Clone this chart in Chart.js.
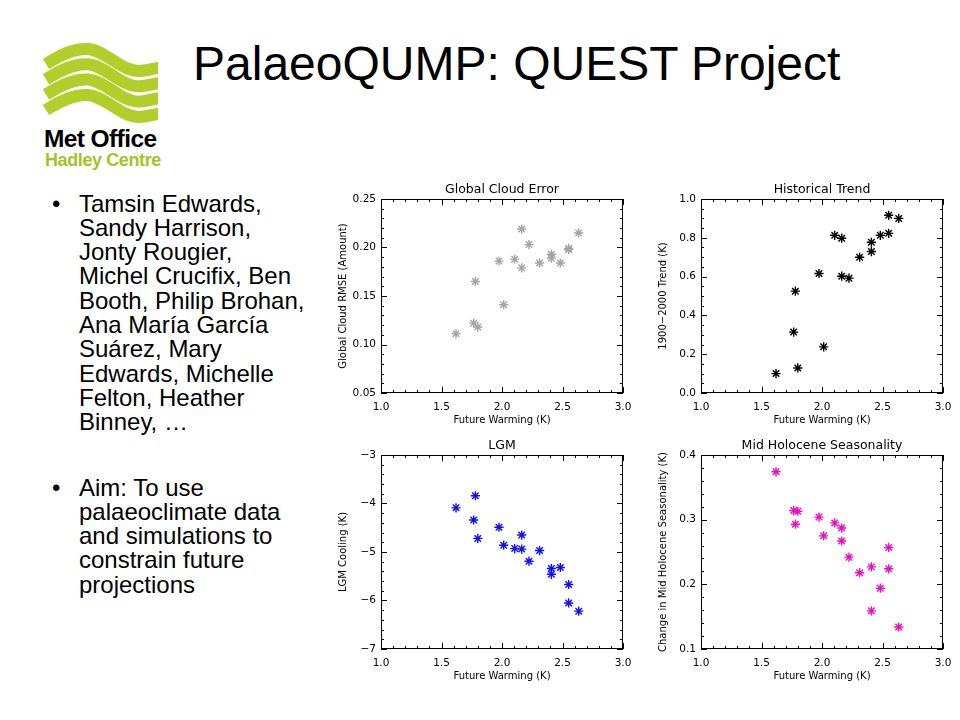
<!DOCTYPE html>
<html><head><meta charset="utf-8">
<script src="https://cdn.jsdelivr.net/npm/chart.js@4.4.1/dist/chart.umd.min.js"></script>
<style>
html,body{margin:0;padding:0;background:#fff;}
body{width:960px;height:720px;position:relative;overflow:hidden;font-family:"Liberation Sans",Arial,sans-serif;color:#000;}
#title{position:absolute;left:193px;top:40px;font-size:48px;line-height:48px;white-space:nowrap;}
.bul{position:absolute;left:79px;font-size:24px;line-height:24.3px;white-space:nowrap;}
.bul::before{content:"\2022";position:absolute;left:-27px;}
canvas{position:absolute;}
#logo{position:absolute;left:0;top:0;}
.lt1{position:absolute;left:44px;top:126px;font-size:24.5px;font-weight:bold;line-height:26px;white-space:nowrap;letter-spacing:-0.6px;}
.lt2{position:absolute;left:45px;top:150px;font-size:18px;line-height:20px;white-space:nowrap;color:#a3c424;font-weight:bold;letter-spacing:-0.4px;}
</style></head>
<body>
<svg id="logo" width="200" height="130">
  <g fill="none" stroke="#b0cf2a" stroke-width="12">
    <path d="M46,64 C62,54 75,48 88,49 C105,50 122,72 140,71 C150,70 155,68 158,68"/>
    <path d="M46,79.3 C62,69.3 75,63.3 88,64.3 C105,65.3 122,87.3 140,86.3 C150,85.3 155,83.3 158,83.3"/>
    <path d="M46,94.6 C62,84.6 75,78.6 88,79.6 C105,80.6 122,102.6 140,101.6 C150,100.6 155,98.6 158,98.6"/>
    <path d="M46,110 C62,100 75,94 88,95 C105,96 122,118 140,117 C150,116 155,114 158,114"/>
  </g>
</svg>
<div class="lt1">Met Office</div>
<div class="lt2">Hadley Centre</div>
<div id="title">PalaeoQUMP: QUEST Project</div>
<div class="bul" style="top:191.5px">Tamsin Edwards,<br>Sandy Harrison,<br>Jonty Rougier,<br>Michel Crucifix, Ben<br>Booth, Philip Brohan,<br>Ana María García<br>Suárez, Mary<br>Edwards, Michelle<br>Felton, Heather<br>Binney, …</div>
<div class="bul" style="top:475.5px">Aim: To use<br>palaeoclimate data<br>and simulations to<br>constrain future<br>projections</div>
<canvas id="c1" width="302" height="248" style="left:331px;top:180px"></canvas>
<canvas id="c2" width="302" height="248" style="left:651px;top:180px"></canvas>
<canvas id="c3" width="302" height="248" style="left:331px;top:436px"></canvas>
<canvas id="c4" width="302" height="248" style="left:651px;top:436px"></canvas>
<script>
// ---- data ----
const futureWarming = [1.62, 1.766, 1.78, 1.80, 1.975, 2.014, 2.105, 2.163, 2.163, 2.223, 2.311, 2.408, 2.408, 2.482, 2.551, 2.551, 2.634];
const cloudRmse     = [0.111, 0.122, 0.165, 0.118, 0.186, 0.141, 0.188, 0.219, 0.179, 0.203, 0.184, 0.193, 0.189, 0.184, 0.199, 0.198, 0.215];
const histTrend     = [0.10, 0.314, 0.525, 0.129, 0.616, 0.238, 0.813, 0.798, 0.602, 0.592, 0.700, 0.777, 0.729, 0.813, 0.916, 0.823, 0.90];
const lgmCooling    = [-4.09, -4.34, -3.84, -4.72, -4.49, -4.86, -4.93, -4.65, -4.94, -5.19, -4.97, -5.34, -5.46, -5.32, -5.67, -6.05, -6.22];
const mhSeasonality = [0.374, 0.314, 0.293, 0.313, 0.304, 0.275, 0.295, 0.287, 0.267, 0.242, 0.218, 0.227, 0.159, 0.194, 0.257, 0.224, 0.134];

const xTickValues = [1.0, 1.5, 2.0, 2.5, 3.0];
const xTickLabels = ['1.0', '1.5', '2.0', '2.5', '3.0'];
const cloudTickValues = [0.05, 0.10, 0.15, 0.20, 0.25];
const cloudTickLabels = ['0.05', '0.10', '0.15', '0.20', '0.25'];
const histTickValues = [0.0, 0.2, 0.4, 0.6, 0.8, 1.0];
const histTickLabels = ['0.0', '0.2', '0.4', '0.6', '0.8', '1.0'];
const lgmTickValues = [-7, -6, -5, -4, -3];
const lgmTickLabels = ['\u22127', '\u22126', '\u22125', '\u22124', '\u22123'];
const mhTickValues = [0.1, 0.2, 0.3, 0.4];
const mhTickLabels = ['0.1', '0.2', '0.3', '0.4'];

const panels = [
  {id:'c1', title:'Global Cloud Error', yTitle:'Global Cloud RMSE (Amount)', y:cloudRmse, color:'#a4a4a4',
   yMin:0.05, yMax:0.25, yTicks:cloudTickValues, yLabels:cloudTickLabels, yMajor:0.05, yMinor:0.01},
  {id:'c2', title:'Historical Trend', yTitle:'1900\u22122000 Trend (K)', y:histTrend, color:'#000000',
   yMin:0, yMax:1, yTicks:histTickValues, yLabels:histTickLabels, yMajor:0.2, yMinor:0.05},
  {id:'c3', title:'LGM', yTitle:'LGM Cooling (K)', y:lgmCooling, color:'#1010f0',
   yMin:-7, yMax:-3, yTicks:lgmTickValues, yLabels:lgmTickLabels, yMajor:1, yMinor:0.2},
  {id:'c4', title:'Mid Holocene Seasonality', yTitle:'Change in Mid Holocene Seasonality (K)', y:mhSeasonality, color:'#e810c0',
   yMin:0.1, yMax:0.4, yTicks:mhTickValues, yLabels:mhTickLabels, yMajor:0.1, yMinor:0.02}
];

const TICKFONT = {family:'"DejaVu Sans", sans-serif', size:10.5};
const AXFONT = {family:'"DejaVu Sans", sans-serif', size:10};

const framePlugin = {
  id:'idlFrame',
  afterDraw(chart, args, opts){
    const {ctx, chartArea:a, scales:{x, y}} = chart;
    ctx.save();
    ctx.strokeStyle = '#000';
    ctx.lineWidth = 1;
    ctx.strokeRect(Math.round(a.left)+0.5, Math.round(a.top)+0.5, Math.round(a.right-a.left)-1, Math.round(a.bottom-a.top)-1);
    const isMajor = (v, m) => Math.abs(Math.round(v/m)*m - v) < 1e-7;
    ctx.beginPath();
    for (let v = x.min; v <= x.max + 1e-9; v += opts.xMinor){
      const px = Math.round(x.getPixelForValue(v)) + 0.5;
      const L = isMajor(v - x.min, opts.xMajor) ? 6 : 3;
      ctx.moveTo(px, a.bottom); ctx.lineTo(px, a.bottom - L);
      ctx.moveTo(px, a.top); ctx.lineTo(px, a.top + L);
    }
    for (let v = y.min; v <= y.max + 1e-9; v += opts.yMinor){
      const py = Math.round(y.getPixelForValue(v)) + 0.5;
      const L = isMajor(v - y.min, opts.yMajor) ? 6 : 3;
      ctx.moveTo(a.left, py); ctx.lineTo(a.left + L, py);
      ctx.moveTo(a.right, py); ctx.lineTo(a.right - L, py);
    }
    ctx.stroke();
    ctx.fillStyle = '#000';
    ctx.font = '12.5px "DejaVu Sans", sans-serif';
    ctx.textAlign = 'center';
    ctx.textBaseline = 'alphabetic';
    ctx.fillText(opts.title, (a.left + a.right)/2, a.top - 6);
    ctx.restore();
  }
};

panels.forEach(p => {
  new Chart(document.getElementById(p.id), {
    type:'scatter',
    data:{datasets:[{
      data: futureWarming.map((xv, i) => ({x:xv, y:p.y[i]})),
      pointStyle:'star', pointRadius:4.6, pointHoverRadius:4.6,
      borderColor:p.color, backgroundColor:p.color, borderWidth:1.4
    }]},
    options:{
      responsive:false, animation:false, events:[],
      layout:{padding:{top:19, right:10, left:0, bottom:0}},
      plugins:{
        legend:{display:false}, tooltip:{enabled:false},
        idlFrame:{title:p.title, xMajor:0.5, xMinor:0.1, yMajor:p.yMajor, yMinor:p.yMinor}
      },
      scales:{
        x:{
          type:'linear', min:1, max:3,
          afterBuildTicks: s => { s.ticks = xTickValues.map(v => ({value:v})); },
          ticks:{callback:(v, i) => xTickLabels[i], font:TICKFONT, color:'#000', padding:8, maxRotation:0, autoSkip:false},
          grid:{display:false, drawTicks:false}, border:{display:false},
          title:{display:true, text:'Future Warming (K)', font:AXFONT, color:'#000', padding:{top:0, bottom:2}},
          afterFit: s => { s.height = 35; s.paddingLeft = 0; s.paddingRight = 0; }
        },
        y:{
          type:'linear', min:p.yMin, max:p.yMax,
          afterBuildTicks: s => { s.ticks = p.yTicks.map(v => ({value:v})); },
          ticks:{callback:(v, i) => p.yLabels[i], font:TICKFONT, color:'#000', padding:5, autoSkip:false},
          grid:{display:false, drawTicks:false}, border:{display:false},
          title:{display:true, text:p.yTitle, font:AXFONT, color:'#000', padding:{top:6, bottom:0}},
          afterFit: s => { s.width = 50; s.paddingTop = 0; s.paddingBottom = 0; }
        }
      }
    },
    plugins:[framePlugin]
  });
});
</script>
</body></html>
